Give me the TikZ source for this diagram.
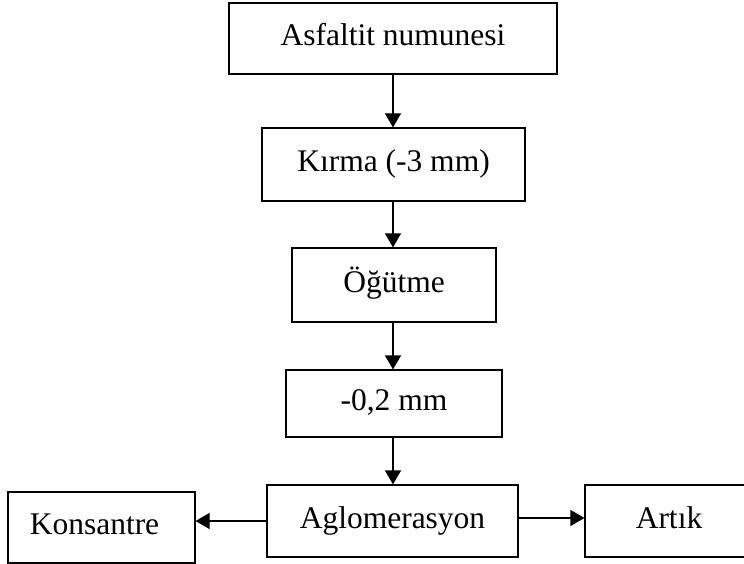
\documentclass[tikz,border=0pt]{standalone}
\usepackage{fontspec}
\setmainfont{Liberation Serif}
\usetikzlibrary{arrows.meta}
\begin{document}
\begin{tikzpicture}[x=1pt,y=-1pt,
  box/.style={draw, line width=1.2pt, inner sep=0pt, font=\fontsize{31.5}{36}\selectfont, text height=21pt, text depth=7pt, anchor=center},
  flow/.style={line width=1.2pt, -{Triangle[length=14pt,width=16pt]}}]
\useasboundingbox (0,0) rectangle (744,564);
\node[box, minimum width=328pt, minimum height=71pt] (a) at (393,38.5) {Asfaltit numunesi};
\node[box, minimum width=263pt, minimum height=73pt] (b) at (393.5,164.5) {Kırma (-3 mm)};
\node[box, minimum width=204pt, minimum height=74pt] (c) at (394,285) {Öğütme};
\node[box, minimum width=216pt, minimum height=67pt] (d) at (394,403.5) {-0,2 mm};
\node[box, minimum width=251pt, minimum height=72pt] (e) at (392.5,521) {Aglomerasyon};
\node[box, minimum width=187pt, minimum height=71pt] (k) at (101.5,527.5) {\hspace*{-14pt}Konsantre};
\node[box, minimum width=168pt, minimum height=72pt] (r) at (669,521) {Artık};
\draw[flow] (a.south -| 393,0) -- (b.north -| 393,0);
\draw[flow] (b.south -| 393,0) -- (c.north -| 393,0);
\draw[flow] (c.south -| 393,0) -- (d.north -| 393,0);
\draw[flow] (d.south -| 393,0) -- (e.north -| 393,0);
\draw[flow] (e.west) -- (e.west -| k.east);
\draw[flow] (e.east) ++(0,-3) coordinate (eo) (eo) -- (eo -| r.west);
\end{tikzpicture}
\end{document}
